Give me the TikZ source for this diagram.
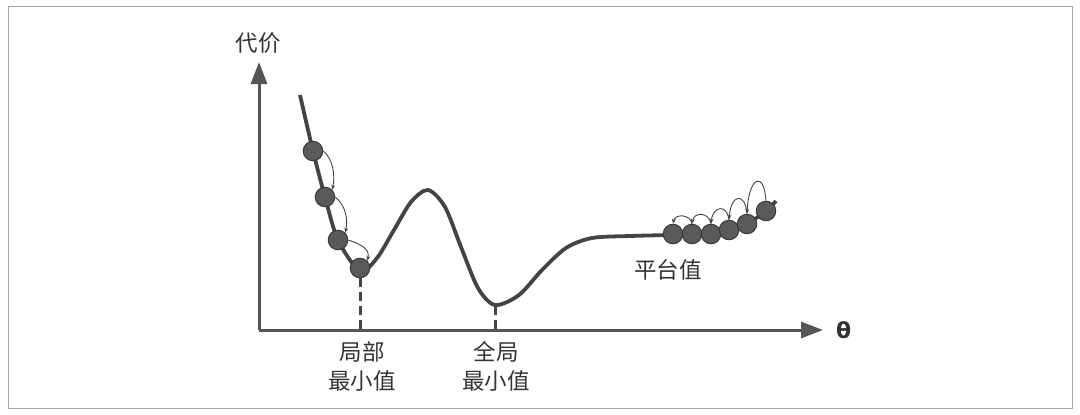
\documentclass[tikz,border=0pt]{standalone}
\usepackage{fontspec}
\newfontfamily\cjk{Noto Sans CJK SC}
\newfontfamily\thetafont{DejaVu Sans}
\usetikzlibrary{arrows.meta}
\definecolor{axisgray}{HTML}{555555}
\definecolor{curvegray}{HTML}{444444}
\definecolor{ballfill}{HTML}{5A5A5A}
\definecolor{ballline}{HTML}{3A3A3A}
\definecolor{txt}{HTML}{333333}
\tikzset{
  axis/.style={draw=axisgray, line width=3pt, -{Triangle[length=22pt,width=16pt]}},
  curve/.style={draw=curvegray, line width=3.8pt},
  ball/.style={circle, fill=ballfill, draw=ballline, line width=1pt, minimum size=19.5pt, inner sep=0pt},
  hop/.style={draw=curvegray, line width=0.9pt, -{Stealth[length=5pt,width=4pt]}},
  guide/.style={draw=curvegray, line width=3pt, dash pattern=on 9pt off 5pt},
  lbl/.style={font=\cjk\fontsize{22.5}{29}\selectfont, text=txt, align=center, inner sep=0pt}
}
\begin{document}
\begin{tikzpicture}[x=1pt,y=-1pt]
\useasboundingbox (0,0) rectangle (1080,415);
\draw[gray!70, line width=1pt] (8,6) rectangle (1072,408);
% axes
\coordinate (o) at (259,330);
\coordinate (ytip) at (259,62);
\coordinate (xtip) at (823,330);
\draw[axis] (o) -- (ytip);
\draw[axis] (o) -- (xtip);
\node[lbl, anchor=south] (ylab) at (258,54) {代价};
\node[font=\thetafont\bfseries\fontsize{22}{22}\selectfont, text=txt, anchor=west, inner sep=0pt] (xlab) at (836,330) {θ};
% dashed guides
\coordinate (lmin) at (360,278);
\coordinate (lax) at (360,330);
\coordinate (gmin) at (495,306);
\coordinate (gax) at (495,330);
\draw[guide] (lmin) -- (lax);
\draw[guide] (gmin) -- (gax);
% curve
\draw[curve, line join=round] plot[smooth, tension=0.5] coordinates {
 (300,95) (313,151) (325,197) (338,240) (360,271) (377,258) (394,230) (411,202) (428,190)
 (445,207) (461,247) (478,288) (495,305) (519,295) (542,270) (566,248) (592,238)
 (630,236) (673,235) (692,235) (711,234) (729,231) (747,224) (766,211) (776,201)};
% balls left
\node[ball] (a1) at (313,151) {};
\node[ball] (a2) at (325,197) {};
\node[ball] (a3) at (338,240) {};
\node[ball] (a4) at (360,268) {};
\draw[hop] (a1.east) .. controls +(10,8) and +(3,-14) .. (a2.north east);
\draw[hop] (a2.east) .. controls +(10,8) and +(3,-14) .. (a3.north east);
\draw[hop] (a3.east) .. controls +(12,4) and +(3,-12) .. (a4.north east);
% balls plateau
\node[ball] (p1) at (673,234) {};
\node[ball] (p2) at (692,234) {};
\node[ball] (p3) at (711,234) {};
\node[ball] (p4) at (729,230) {};
\node[ball] (p5) at (747,224) {};
\node[ball] (p6) at (766,211) {};
\draw[hop] (p2.north) .. controls +(-2,-10) and +(2,-10) .. (p1.north);
\draw[hop] (p3.north) .. controls +(-2,-12) and +(2,-12) .. (p2.north);
\draw[hop] (p4.north) .. controls +(-2,-16) and +(2,-18) .. (p3.north);
\draw[hop] (p5.north) .. controls +(-2,-22) and +(2,-26) .. (p4.north);
\draw[hop] (p6.north) .. controls +(-2,-30) and +(2,-38) .. (p5.north);
% labels
\node[lbl] (loclab) at (362,366) {局部\\最小值};
\node[lbl] (globlab) at (496,366) {全局\\最小值};
\node[lbl] (platlab) at (668,270) {平台值};
\end{tikzpicture}
\end{document}
